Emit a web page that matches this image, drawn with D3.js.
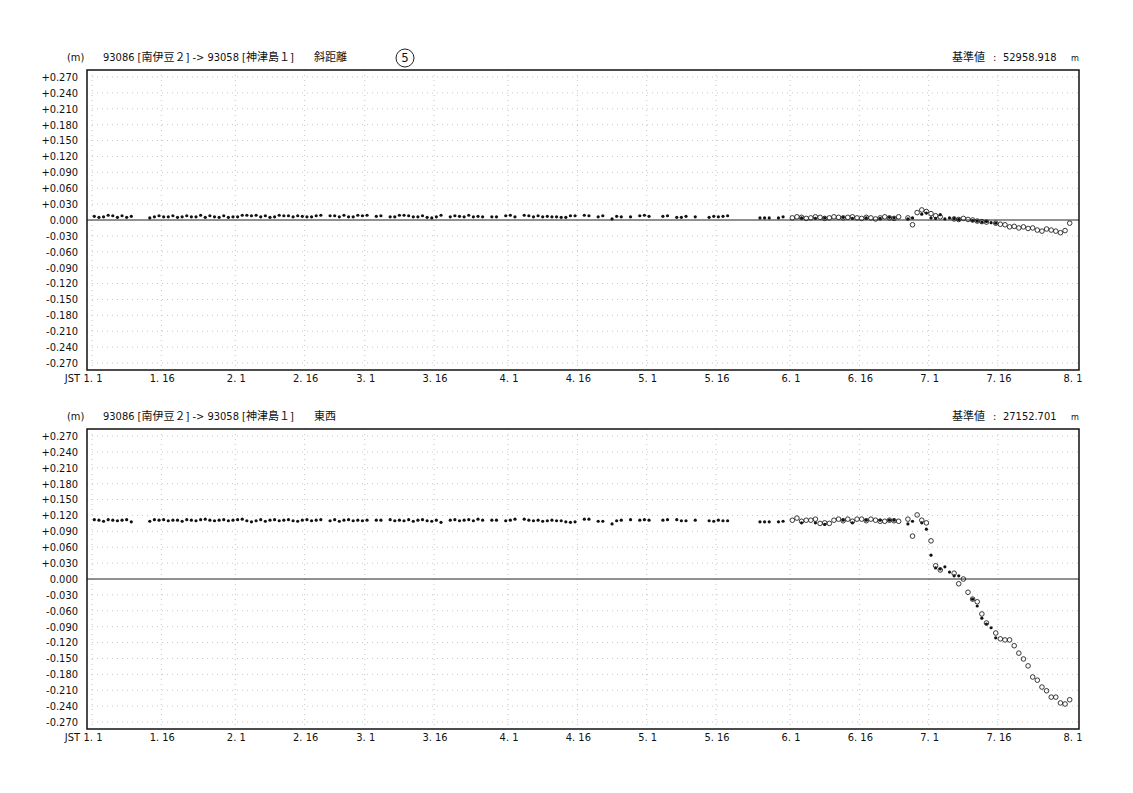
<!DOCTYPE html>
<html lang="ja">
<head>
<meta charset="utf-8">
<title>93086 南伊豆2 -> 93058 神津島1</title>
<script src="https://cdnjs.cloudflare.com/ajax/libs/d3/7.8.5/d3.min.js"></script>
<style>
  body { margin: 0; background: #fff; }
  svg text {
    font-family: "Liberation Sans Narrow", "DejaVu Sans Condensed", "Noto Sans CJK JP", sans-serif;
    font-size: 11px;
    fill: #111;
  }
  .grid line { stroke: #b8b8b8; stroke-width: 0.8; stroke-dasharray: 1,4; }
  .frame { fill: none; stroke: #111; stroke-width: 1.5; }
  .zero { stroke: #222; stroke-width: 1; }
  .dot { fill: #111; }
  .open { fill: none; stroke: #222; stroke-width: 0.9; }
</style>
</head>
<body>
<div id="chart"></div>
<script>
// days counted from 1 Jan (0 = 1.1), one value per daily solution
var dotDays = [0,1,2,3,4,5,6,7,8,
  12,13,14,15,16,17,18,19,20,21,22,23,24,25,26,27,28,29,30,31,32,33,34,35,36,37,38,39,40,41,42,43,44,45,46,47,48,49,
  51,52,53,54,55,56,57,58,59, 61,62,
  64,65,66,67,68,69,70,71,72,73,74,75,
  77,78,79,80,81,82,83,84, 86,87, 89,90,91,
  93,94,95,96,97,98,99,100,101,102,103,104,
  106,107, 109,110, 112,113,114, 116, 118,119,120, 123,124, 126,127,128, 130,
  133,134,135,136,137, 144,145,146, 148,149,
  153,156,158,162,164,167,170,172,173,
  176,177,179,180,181,182,183,184,185,186,187,190,191,192,193,194,195];

var dotSlope = [0.007,0.005,0.006,0.009,0.008,0.005,0.008,0.005,0.007,
  0.004,0.006,0.008,0.006,0.006,0.008,0.005,0.006,0.008,0.006,0.006,0.009,0.005,0.008,0.006,0.005,0.008,0.005,0.006,0.006,0.009,0.009,0.008,0.009,0.006,0.008,0.005,0.006,0.009,0.008,0.008,0.006,0.008,0.007,0.006,0.006,0.008,0.009,
  0.008,0.008,0.006,0.009,0.006,0.006,0.009,0.008,0.009, 0.007,0.008,
  0.006,0.006,0.009,0.009,0.008,0.006,0.006,0.008,0.005,0.004,0.006,0.009,
  0.006,0.008,0.007,0.006,0.009,0.006,0.007,0.006, 0.006,0.006, 0.008,0.009,0.006,
  0.009,0.008,0.006,0.008,0.006,0.007,0.006,0.006,0.005,0.005,0.008,0.008,
  0.009,0.008, 0.006,0.008, 0.002,0.007,0.006, 0.006, 0.008,0.009,0.007, 0.007,0.008, 0.005,0.005,0.007, 0.006,
  0.005,0.007,0.006,0.007,0.008, 0.004,0.004,0.004, 0.004,0.006,
  0.004,0.003,0.004,0.005,0.003,0.004,0.003,0.005,0.004,
  0.002,0.004,0.011,0.013,0.004,0.003,0.010,0.002,0.004,0.003,0.001,-0.001,-0.002,-0.004,-0.003,-0.005,-0.006];

var dotEW = [0.112,0.111,0.109,0.112,0.111,0.110,0.111,0.112,0.108,
  0.109,0.112,0.111,0.112,0.110,0.111,0.111,0.109,0.112,0.111,0.110,0.112,0.113,0.111,0.110,0.111,0.112,0.110,0.111,0.112,0.113,0.110,0.108,0.110,0.112,0.109,0.111,0.112,0.110,0.111,0.112,0.110,0.109,0.111,0.112,0.110,0.111,0.112,
  0.110,0.112,0.109,0.111,0.112,0.110,0.111,0.110,0.111, 0.111,0.111,
  0.112,0.110,0.111,0.110,0.112,0.109,0.111,0.112,0.110,0.109,0.111,0.107,
  0.111,0.112,0.110,0.111,0.112,0.110,0.113,0.111, 0.111,0.111, 0.110,0.111,0.113,
  0.113,0.111,0.110,0.111,0.109,0.110,0.111,0.110,0.110,0.108,0.107,0.108,
  0.113,0.113, 0.109,0.109, 0.104,0.110,0.111, 0.112, 0.111,0.112,0.111, 0.111,0.112, 0.112,0.110,0.110, 0.111,
  0.110,0.109,0.111,0.110,0.110, 0.108,0.108,0.108, 0.108,0.109,
  0.106,0.106,0.103,0.111,0.106,0.111,0.111,0.111,0.111,
  0.104,0.109,0.106,0.094,0.045,0.021,0.019,0.023,0.013,0.006,0.006,-0.038,-0.051,-0.074,-0.085,-0.092,-0.111];

var openDays = [151,152,153,154,155,156,157,158,159,160,161,162,163,164,165,166,167,168,169,170,171,172,173,174,
  176,177,178,179,180,181,182,183,186,187,188,189,190,191,192,193,
  195,196,197,198,199,200,201,202,203,204,205,206,207,208,209,210,211];

var openSlope = [0.004,0.006,0.005,0.003,0.004,0.006,0.005,0.003,0.004,0.006,0.005,0.004,0.005,0.006,0.004,0.003,0.005,0.004,0.002,0.004,0.006,0.004,0.003,0.006,
  0.004,-0.009,0.014,0.019,0.016,0.012,0.008,0.006,0.002,0.001,0.003,0.001,0.000,-0.002,-0.003,-0.004,
  -0.006,-0.008,-0.009,-0.013,-0.012,-0.015,-0.013,-0.016,-0.015,-0.019,-0.021,-0.017,-0.019,-0.021,-0.024,-0.020,-0.006];

var openEW = [0.111,0.115,0.109,0.111,0.111,0.113,0.105,0.106,0.105,0.111,0.113,0.110,0.113,0.109,0.113,0.113,0.110,0.113,0.111,0.109,0.109,0.111,0.110,0.109,
  0.113,0.081,0.121,0.111,0.106,0.072,0.025,0.017,0.011,-0.009,0.000,-0.025,-0.038,-0.043,-0.066,-0.083,
  -0.102,-0.113,-0.115,-0.115,-0.126,-0.140,-0.151,-0.164,-0.185,-0.191,-0.204,-0.211,-0.223,-0.223,-0.234,-0.236,-0.228];

var yTicks = [0.27,0.24,0.21,0.18,0.15,0.12,0.09,0.06,0.03,0,-0.03,-0.06,-0.09,-0.12,-0.15,-0.18,-0.21,-0.24,-0.27];
var xTicks = ["1.1","1.16","2.1","2.16","3.1","3.16","4.1","4.16","5.1","5.16","6.1","6.16","7.1","7.16","8.1"];

var panels = [
  {top: 70, label: "斜距離", base: "52958.918", dots: dotSlope, opens: openSlope, mark: "5"},
  {top: 429, label: "東西", base: "27152.701", dots: dotEW, opens: openEW}
];

var width = 1133, height = 793;
var boxLeft = 87, boxRight = 1079, boxH = 300;
var year = 2009;

function dayDate(d) { return new Date(Date.UTC(year, 0, 1 + d, 12)); }
function tickDate(s) { var p = s.split("."); return new Date(Date.UTC(year, +p[0] - 1, +p[1])); }

var svg = d3.select("#chart").append("svg")
    .attr("width", width)
    .attr("height", height);

var x = d3.scaleUtc()
    .domain([tickDate("1.1"), tickDate("8.1")])
    .range([92, 1072]);

function fmt(v) {
  if (v > 0) return "+" + d3.format(".3f")(v);
  return d3.format(".3f")(v).replace("−", "-");
}

panels.forEach(function(p) {
  var y = d3.scaleLinear()
      .domain([-0.2832, 0.2832])
      .range([p.top + boxH, p.top]);

  var g = svg.append("g");

  // dotted grid
  var grid = g.append("g").attr("class", "grid");
  grid.selectAll("line.h")
    .data(yTicks.filter(function(v) { return v !== 0; }))
    .enter().append("line")
      .attr("x1", boxLeft).attr("x2", boxRight)
      .attr("y1", function(d) { return y(d); })
      .attr("y2", function(d) { return y(d); });
  grid.selectAll("line.v")
    .data(xTicks.slice(0, -1))
    .enter().append("line")
      .attr("x1", function(d) { return x(tickDate(d)); })
      .attr("x2", function(d) { return x(tickDate(d)); })
      .attr("y1", p.top).attr("y2", p.top + boxH);

  g.append("line").attr("class", "zero")
    .attr("x1", boxLeft).attr("x2", boxRight)
    .attr("y1", y(0)).attr("y2", y(0));

  g.append("rect").attr("class", "frame")
    .attr("x", boxLeft).attr("y", p.top)
    .attr("width", boxRight - boxLeft).attr("height", boxH);

  // y labels
  g.selectAll("text.yl")
    .data(yTicks)
    .enter().append("text")
      .attr("x", 78)
      .attr("y", function(d) { return y(d); })
      .attr("dy", "0.35em")
      .attr("text-anchor", "end")
      .text(fmt);

  // x labels
  g.selectAll("text.xl")
    .data(xTicks)
    .enter().append("text")
      .attr("x", function(d) { return x(tickDate(d)) + 1; })
      .attr("y", p.top + boxH + 12)
      .attr("text-anchor", "middle")
      .text(function(d) { return d.replace(".", ". "); });
  g.append("text")
    .attr("x", 80).attr("y", p.top + boxH + 12)
    .attr("text-anchor", "end")
    .text("JST");

  // header
  var hy = p.top - 9;
  g.append("text").attr("x", 67).attr("y", hy).text("(m)");
  g.append("text").attr("x", 103).attr("y", hy).text("93086 [南伊豆２] -> 93058 [神津島１]");
  g.append("text").attr("x", 314).attr("y", hy).text(p.label);
  g.append("text").attr("x", 952).attr("y", hy).text("基準値");
  g.append("text").attr("x", 993).attr("y", hy).text(":");
  g.append("text").attr("x", 1003).attr("y", hy).text(p.base);
  g.append("text").attr("x", 1071).attr("y", hy).style("font-size", "9px").text("m");
  if (p.mark) {
    g.append("circle").attr("cx", 405).attr("cy", hy - 3).attr("r", 9)
      .attr("fill", "none").attr("stroke", "#222").attr("stroke-width", 1);
    g.append("text").attr("x", 405).attr("y", hy + 1)
      .attr("text-anchor", "middle").style("font-size", "13px").text(p.mark);
  }

  // data
  g.selectAll("circle.dot")
    .data(dotDays)
    .enter().append("circle")
      .attr("class", "dot")
      .attr("cx", function(d) { return x(dayDate(d)); })
      .attr("cy", function(d, i) { return y(p.dots[i]); })
      .attr("r", 1.6);

  g.selectAll("circle.open")
    .data(openDays)
    .enter().append("circle")
      .attr("class", "open")
      .attr("cx", function(d) { return x(dayDate(d)); })
      .attr("cy", function(d, i) { return y(p.opens[i]); })
      .attr("r", 2.3);
});
</script>
</body>
</html>
